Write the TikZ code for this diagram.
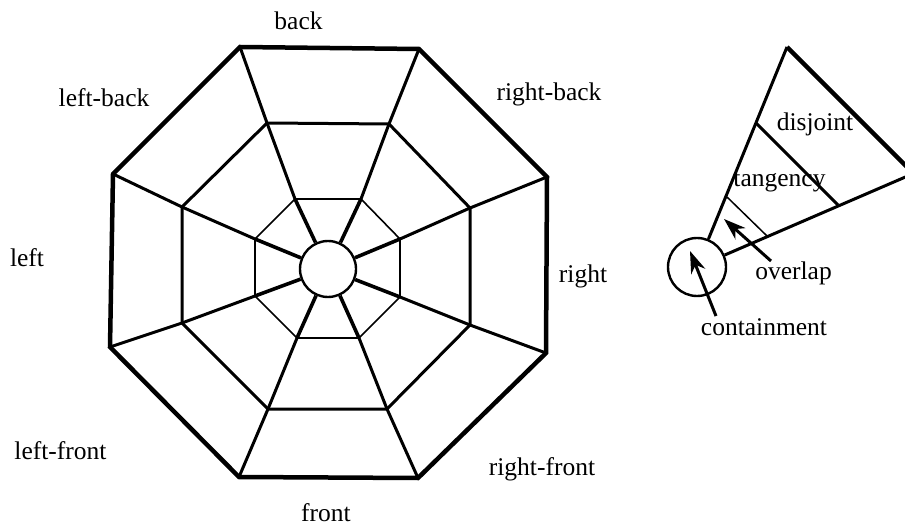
\documentclass[tikz,border=0pt]{standalone}
\usepackage{fontspec}
\setmainfont{Liberation Serif}
\usetikzlibrary{arrows.meta}
\begin{document}
\begin{tikzpicture}[x=1pt,y=-1pt,
  lbl/.style={anchor=base,inner sep=0pt,font=\fontsize{25.5}{30}\selectfont},
  outerline/.style={line width=4.5pt,line join=miter},
  midline/.style={line width=3pt,line join=miter},
  innerline/.style={line width=1.6pt,line join=miter},
  spokein/.style={line width=3.6pt},
  spokeout/.style={line width=3pt},
  hub/.style={circle,draw,line width=2.4pt,minimum size=56pt,inner sep=0pt},
  wedge/.style={line width=3pt},
  thinsep/.style={line width=1.5pt},
  ptr/.style={line width=3pt,-{Stealth[length=22pt,width=15pt,inset=7pt]}}
]
\useasboundingbox (0,0) rectangle (905,529);
\clip (0,0) rectangle (905,529);
% outer octagon
\coordinate (O1) at (240,47);
\coordinate (O2) at (419,49);
\coordinate (O3) at (547,177);
\coordinate (O4) at (546,353);
\coordinate (O5) at (418,478);
\coordinate (O6) at (239,477);
\coordinate (O7) at (110,347);
\coordinate (O8) at (113,174);
% middle octagon
\coordinate (M1) at (267,123);
\coordinate (M2) at (389,124);
\coordinate (M3) at (470,208);
\coordinate (M4) at (470,325);
\coordinate (M5) at (387,409);
\coordinate (M6) at (268,409);
\coordinate (M7) at (182,323);
\coordinate (M8) at (182,207);
% inner octagon
\coordinate (I1) at (295,199);
\coordinate (I2) at (361,199);
\coordinate (I3) at (400,239);
\coordinate (I4) at (400,297);
\coordinate (I5) at (359,338);
\coordinate (I6) at (297,338);
\coordinate (I7) at (255,296);
\coordinate (I8) at (255,239);
\node[hub] (C) at (328,269) {};
\draw[outerline] (O1)--(O2)--(O3)--(O4)--(O5)--(O6)--(O7)--(O8)--cycle;
\draw[midline] (M1)--(M2)--(M3)--(M4)--(M5)--(M6)--(M7)--(M8)--cycle;
\draw[innerline] (I1)--(I2)--(I3)--(I4)--(I5)--(I6)--(I7)--(I8)--cycle;
\foreach \i in {1,...,8}{
  \draw[spokein] (C) -- (I\i);
  \draw[spokeout] (I\i) -- (M\i) -- (O\i);
}
% direction labels
\node[lbl] (lback) at (298.5,30) {back};
\node[lbl] (lleftback) at (104,107) {left-back};
\node[lbl] (lrightback) at (549,101) {right-back};
\node[lbl] (lleft) at (27,267) {left};
\node[lbl] (lright) at (583,283) {right};
\node[lbl] (lleftfront) at (60.5,459) {left-front};
\node[lbl] (lrightfront) at (542,475) {right-front};
\node[lbl] (lfront) at (326,521) {front};
% right-hand wedge
\node[hub,minimum size=58pt] (D) at (697,267) {};
\coordinate (A) at (787,47);
\coordinate (B) at (913.5,173.5);
\coordinate (S1) at (756,123);
\coordinate (S2) at (838,205);
\coordinate (T1) at (727,197);
\coordinate (T2) at (767,236);
\draw[wedge] (D) -- (A);
\draw[wedge] (D) -- (B);
\draw[outerline] (A) -- (B);
\draw[wedge] (S1) -- (S2);
\draw[thinsep] (T1) -- (T2);
\node[lbl] (ldisjoint) at (815,131) {disjoint};
\node[lbl] (ltangency) at (779.5,186.5) {tangency};
\node[lbl] (loverlap) at (793.5,280) {overlap};
\node[lbl] (lcontain) at (764,335) {containment};
\coordinate (sov) at (771,261);
\coordinate (pov) at (724,219);
\coordinate (sco) at (716,316);
\coordinate (pco) at (690,251);
\draw[ptr] (sov) -- (pov);
\draw[ptr] (sco) -- (pco);
\end{tikzpicture}
\end{document}
